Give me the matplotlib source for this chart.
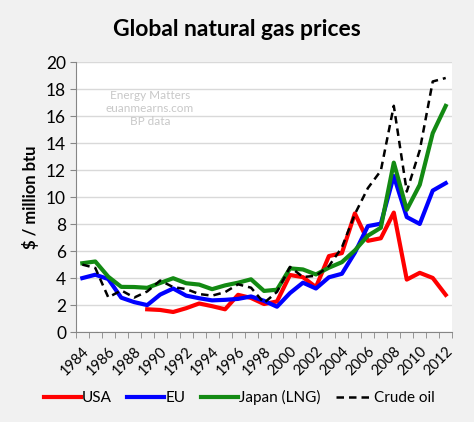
import numpy as np
import matplotlib
matplotlib.use("Agg")
import matplotlib.pyplot as plt

years = list(range(1984, 2013))

# BP data, $ / million btu
usa = [None, None, None, None, None, 1.69, 1.64, 1.49, 1.77, 2.12, 1.92, 1.69, 2.76, 2.53,
       2.08, 2.27, 4.23, 4.07, 3.33, 5.63, 5.85, 8.79, 6.76, 6.95, 8.85, 3.89, 4.39, 4.01, 2.76]
eu = [4.00, 4.25, 3.93, 2.55, 2.22, 2.00, 2.78, 3.23, 2.70, 2.51, 2.35, 2.39, 2.46, 2.64,
      2.32, 1.88, 2.89, 3.66, 3.23, 4.06, 4.32, 5.88, 7.85, 8.03, 11.56, 8.52, 8.01, 10.48, 11.03]
japan = [5.10, 5.23, 4.10, 3.35, 3.34, 3.28, 3.64, 3.99, 3.62, 3.52, 3.18, 3.46, 3.66, 3.91,
         3.05, 3.14, 4.72, 4.64, 4.27, 4.77, 5.18, 6.05, 7.14, 7.73, 12.55, 9.06, 10.91, 14.73, 16.75]
crude = [5.00, 4.75, 2.57, 3.09, 2.56, 3.01, 3.82, 3.33, 3.19, 2.82, 2.70, 2.96, 3.54, 3.29,
         2.16, 2.98, 4.83, 4.08, 4.17, 4.89, 6.27, 8.74, 10.66, 11.95, 16.76, 10.41, 13.47, 18.56, 18.82]

plt.rcParams['font.family'] = ['Lato', 'DejaVu Sans']

fig = plt.figure(figsize=(4.74, 4.22), dpi=100, facecolor='#f1f1f1')
ax = fig.add_axes([0.160, 0.213, 0.794, 0.640])
ax.set_facecolor('white')

x = np.arange(len(years))
us_arr = np.array([np.nan if v is None else v for v in usa])
ax.plot(x, us_arr, color='#ff0000', lw=3, label='USA')
ax.plot(x, eu, color='#0000ff', lw=3, label='EU')
ax.plot(x, japan, color='#138a13', lw=3, label='Japan (LNG)')
ax.plot(x, crude, color='black', lw=1.8, ls=(0, (3, 2)), label='Crude oil')

ax.set_xlim(-0.5, len(years) - 0.5)
ax.set_ylim(0, 20)
ax.set_yticks(range(0, 21, 2))
ax.yaxis.grid(True, color='#d9d9d9', lw=1)
ax.set_axisbelow(True)

ax.set_xticks(x[::2])
ax.set_xticklabels([str(y) for y in years[::2]], rotation=45, ha='right',
                   rotation_mode='anchor', fontsize=10.5)
ax.tick_params(axis='x', which='major', length=0, pad=9)
ax.set_xticks(np.arange(-0.5, len(years), 1), minor=True)
ax.tick_params(axis='x', which='minor', length=4, color='#868686', direction='out')
ax.tick_params(axis='y', length=4, color='#868686', labelsize=12.5, pad=3)

for s in ['top', 'right']:
    ax.spines[s].set_visible(False)
ax.spines['left'].set_color('#868686')
ax.spines['bottom'].set_color('#868686')

ax.set_ylabel('$ / million btu', fontsize=12, fontweight='bold', labelpad=5)

fig.text(0.5, 0.93, 'Global natural gas prices', ha='center', va='center',
         fontsize=16.5, fontweight='bold')
ax.text(0.197, 0.895, 'Energy Matters\neuanmearns.com\nBP data', transform=ax.transAxes,
        ha='center', va='top', color='#c8c8c8', fontsize=8.5, linespacing=1.2)

fig.legend(loc='center', bbox_to_anchor=(0.505, 0.058), ncol=4, frameon=False,
           fontsize=11, handlelength=2.4, handletextpad=0.1, columnspacing=1.0)

fig.savefig('out.png', dpi=100, facecolor=fig.get_facecolor())
